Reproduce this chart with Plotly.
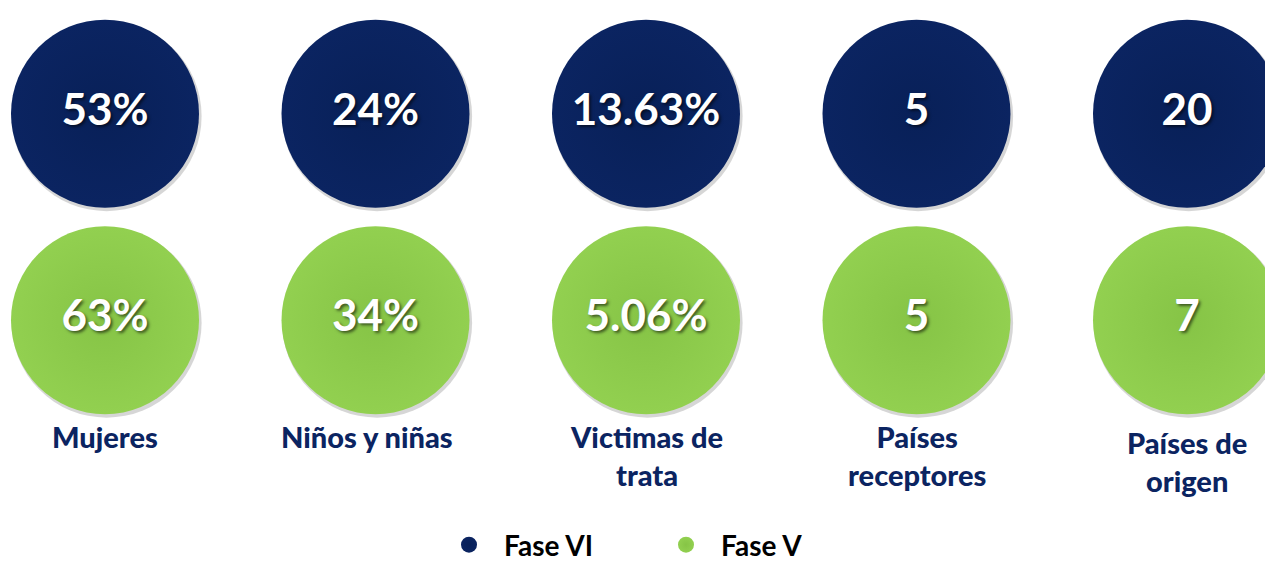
import plotly.graph_objects as go

categories = ["Mujeres", "Niños y niñas", "Victimas de<br>trata", "Países<br>receptores", "Países de<br>origen"]
fase_vi = ["53%", "24%", "13.63%", "5", "20"]
fase_v = ["63%", "34%", "5.06%", "5", "7"]
series_names = ["Fase VI", "Fase V"]

NAVY = "#0B2461"
GREEN = "#92D050"
FONT = "Lato, 'Open Sans', sans-serif"

W, H = 1273, 562
x_idx = list(range(len(categories)))

# pixel mapping helpers for axis ranges
px_per_x = 270.5
x0_px = 97
px_per_y = 211
y0_px = 108

fig = go.Figure()

def row_trace(values, row, name, color, edge):
    return go.Scatter(
        x=x_idx, y=[row] * len(values),
        mode="markers+text",
        name=name,
        text=[f"<b>{v}</b>" for v in values],
        textposition="middle center",
        textfont=dict(family=FONT, size=44, color="white",
                      shadow="2px 2px 3px rgba(0,0,0,0.55)"),
        marker=dict(size=188, color=color, line=dict(width=0),
                    gradient=dict(type="radial", color=edge)),
        hoverinfo="skip",
    )

# soft shadow under circles
for row in (0, 1):
    fig.add_trace(go.Scatter(
        x=[i + 0.006 for i in x_idx], y=[row + 0.012] * len(x_idx),
        mode="markers", showlegend=False, hoverinfo="skip",
        marker=dict(size=190, color="rgba(0,0,0,0.16)", line=dict(width=0)),
    ))

fig.add_trace(row_trace(fase_vi, 0, series_names[0], NAVY, "#082058"))
fig.add_trace(row_trace(fase_v, 1, series_names[1], GREEN, "#86C446"))

label_xshift = [0, -9, 0, 0, 0]
annotations = []
for i, lab in enumerate(categories):
    top_px = 424 if i == 4 else 418
    annotations.append(dict(
        x=i, y=(top_px - y0_px) / px_per_y, xref="x", yref="y",
        xshift=label_xshift[i],
        text=lab, showarrow=False, yanchor="top", xanchor="center",
        font=dict(family=FONT, size=29, color="#0B2461", weight=900), align="center",
    ))

fig.update_layout(
    width=W, height=H,
    margin=dict(l=0, r=0, t=0, b=0),
    paper_bgcolor="white", plot_bgcolor="white",
    xaxis=dict(range=[-x0_px / px_per_x, (W - x0_px) / px_per_x],
               visible=False, fixedrange=True),
    yaxis=dict(range=[(H - y0_px) / px_per_y, -y0_px / px_per_y],
               visible=False, fixedrange=True),
    annotations=annotations,
    showlegend=True,
    legend=dict(orientation="h", x=426 / W, y=1 - 549 / H,
                xanchor="left", yanchor="middle",
                font=dict(family=FONT, size=28, color="black", weight="bold"),
                itemsizing="trace", itemwidth=60,
                entrywidth=142, entrywidthmode="pixels",
                bgcolor="rgba(0,0,0,0)"),
)

fig.write_html("out.html")
